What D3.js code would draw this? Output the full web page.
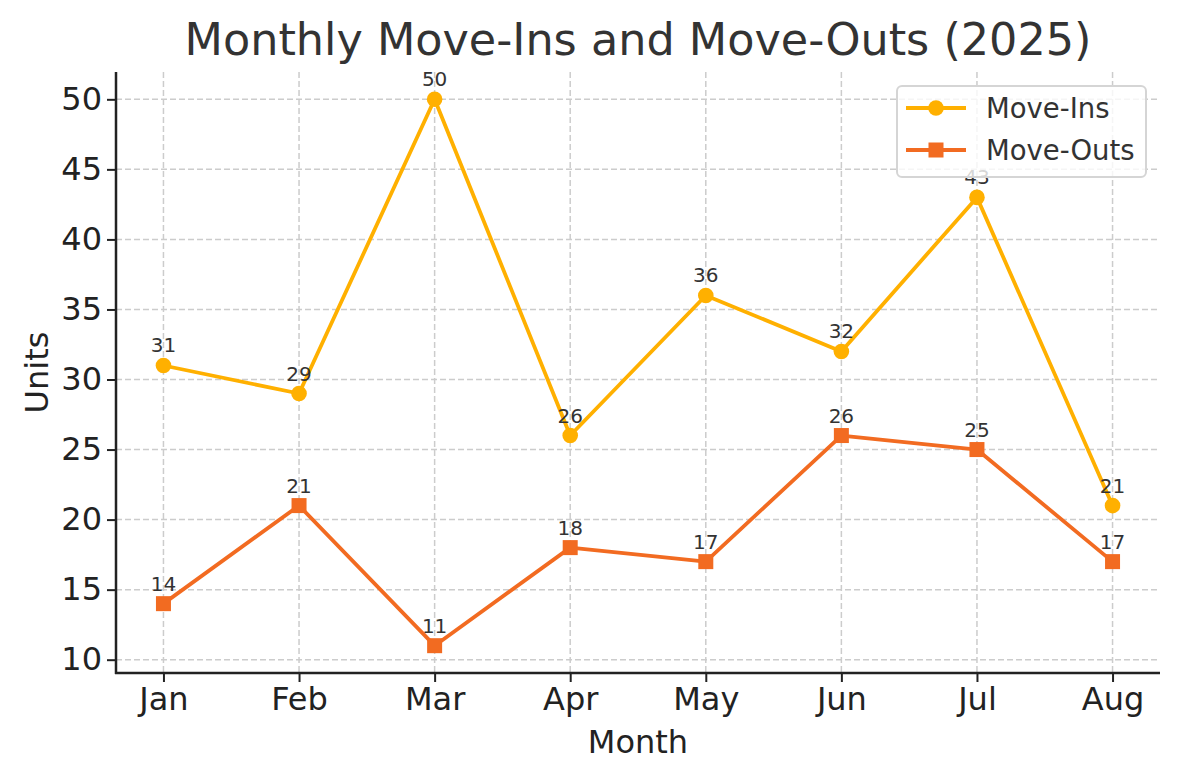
<!DOCTYPE html>
<html>
<head>
<meta charset="utf-8">
<script src="https://cdn.jsdelivr.net/npm/d3@7"></script>
<style>
  body { margin: 0; background: #fff; }
  svg { font-family: "DejaVu Sans", sans-serif; }
</style>
</head>
<body>
<svg width="1180" height="780"></svg>
<script>
var months = ["Jan", "Feb", "Mar", "Apr", "May", "Jun", "Jul", "Aug"];
var moveIns = [31, 29, 50, 26, 36, 32, 43, 21];
var moveOuts = [14, 21, 11, 18, 17, 26, 25, 17];
var yTicks = [10, 15, 20, 25, 30, 35, 40, 45, 50];

var colorIns = "#FFB000";
var colorOuts = "#F26B21";

var svg = d3.select("svg");
var mLeft = 116, mRight = 1160, mTop = 72, mBottom = 673;

var x = d3.scaleLinear().domain([-0.35, 7.35]).range([mLeft, mRight]);
var y = d3.scaleLinear().domain([9.05, 51.95]).range([mBottom, mTop]);

// grid
svg.append("g").selectAll("line")
  .data(yTicks).enter().append("line")
  .attr("x1", mLeft).attr("x2", mRight)
  .attr("y1", function(d) { return y(d); }).attr("y2", function(d) { return y(d); })
  .style("stroke", "#cccccc").style("stroke-width", 1.5).style("stroke-dasharray", "6,3");
svg.append("g").selectAll("line")
  .data(months).enter().append("line")
  .attr("x1", function(d, i) { return x(i); }).attr("x2", function(d, i) { return x(i); })
  .attr("y1", mTop).attr("y2", mBottom)
  .style("stroke", "#cccccc").style("stroke-width", 1.5).style("stroke-dasharray", "6,3");

// axes
var xAxis = d3.axisBottom(x).tickValues(d3.range(months.length))
  .tickFormat(function(i) { return months[i]; }).tickSize(9).tickPadding(5);
var yAxis = d3.axisLeft(y).tickValues(yTicks).tickSize(9).tickPadding(5);

var gx = svg.append("g").attr("transform", "translate(0," + mBottom + ")").call(xAxis);
var gy = svg.append("g").attr("transform", "translate(" + mLeft + ",0)").call(yAxis);
[gx, gy].forEach(function(g) {
  g.attr("font-family", null).attr("font-size", null);
  g.select(".domain").remove();
  g.selectAll(".tick line").style("stroke", "#222").style("stroke-width", 2);
  g.selectAll(".tick text").style("font-size", "32px").style("fill", "#222");
});
svg.append("line").attr("x1", mLeft).attr("x2", mLeft).attr("y1", mTop).attr("y2", mBottom + 1)
  .style("stroke", "#222").style("stroke-width", 2.5);
svg.append("line").attr("x1", mLeft - 1).attr("x2", mRight).attr("y1", mBottom).attr("y2", mBottom)
  .style("stroke", "#222").style("stroke-width", 2.5);

// lines
var line = d3.line().x(function(d, i) { return x(i); }).y(function(d) { return y(d); });

function series(data, color, shape) {
  svg.append("path").datum(data).attr("d", line)
    .style("fill", "none").style("stroke", color).style("stroke-width", 3.8)
    .style("stroke-linejoin", "round");
  if (shape === "circle") {
    svg.append("g").selectAll("circle").data(data).enter().append("circle")
      .attr("cx", function(d, i) { return x(i); }).attr("cy", function(d) { return y(d); })
      .attr("r", 7.8).style("fill", color);
  } else {
    svg.append("g").selectAll("rect").data(data).enter().append("rect")
      .attr("x", function(d, i) { return x(i) - 7.5; }).attr("y", function(d) { return y(d) - 7.5; })
      .attr("width", 15).attr("height", 15).style("fill", color);
  }
  svg.append("g").selectAll("text").data(data).enter().append("text")
    .attr("x", function(d, i) { return x(i); }).attr("y", function(d) { return y(d) - 13; })
    .attr("text-anchor", "middle").style("font-size", "20px").style("fill", "#333")
    .text(function(d) { return d; });
}
series(moveIns, colorIns, "circle");
series(moveOuts, colorOuts, "square");

// title and labels
svg.append("text").attr("x", (mLeft + mRight) / 2).attr("y", 55).attr("text-anchor", "middle")
  .style("font-size", "44.5px").style("fill", "#333").text("Monthly Move-Ins and Move-Outs (2025)");
svg.append("text").attr("x", (mLeft + mRight) / 2).attr("y", 753).attr("text-anchor", "middle")
  .style("font-size", "32px").style("fill", "#222").text("Month");
svg.append("text").attr("transform", "translate(48," + ((mTop + mBottom) / 2) + ") rotate(-90)")
  .attr("text-anchor", "middle").style("font-size", "32px").style("fill", "#222").text("Units");

// legend
var lg = svg.append("g").attr("transform", "translate(897,86)");
lg.append("rect").attr("width", 249).attr("height", 91).attr("rx", 5)
  .style("fill", "rgba(255,255,255,0.8)").style("stroke", "#d5d5d5").style("stroke-width", 2);
var items = [{ name: "Move-Ins", color: colorIns, shape: "circle" },
             { name: "Move-Outs", color: colorOuts, shape: "square" }];
items.forEach(function(it, k) {
  var cy = 22 + k * 42;
  lg.append("line").attr("x1", 9).attr("x2", 69).attr("y1", cy).attr("y2", cy)
    .style("stroke", it.color).style("stroke-width", 3.8);
  if (it.shape === "circle") lg.append("circle").attr("cx", 39).attr("cy", cy).attr("r", 7.8).style("fill", it.color);
  else lg.append("rect").attr("x", 31.5).attr("y", cy - 7.5).attr("width", 15).attr("height", 15).style("fill", it.color);
  lg.append("text").attr("x", 89).attr("y", cy + 10).style("font-size", "27.5px").style("fill", "#333").text(it.name);
});
</script>
</body>
</html>
